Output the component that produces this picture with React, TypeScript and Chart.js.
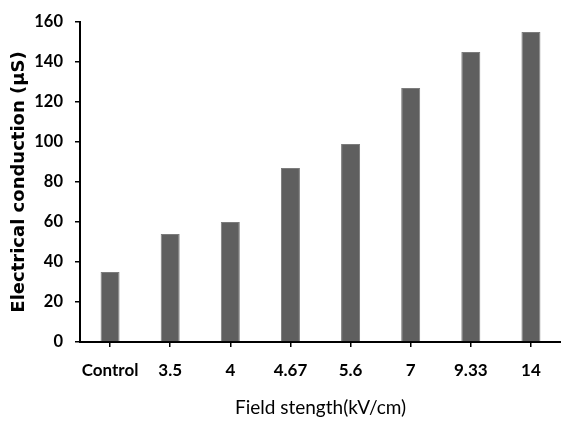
import React, { useEffect, useRef } from "react";
import { Chart, registerables } from "chart.js";

Chart.register(...registerables);

const categories = ["Control", "3.5", "4", "4.67", "5.6", "7", "9.33", "14"];
const conduction = [35, 54, 60, 87, 99, 127, 145, 155];
const yMin = 0;
const yMax = 160;
const yStep = 20;
const xTitle = "Field stength(kV/cm)";
const yTitle = "Electrical conduction (µS)";

export default function App() {
  const ref = useRef<HTMLCanvasElement>(null);

  useEffect(() => {
    const narrow = "Lato, 'Noto Sans', sans-serif";
    const wide = "'DejaVu Sans', Verdana, sans-serif";
    const chart = new Chart(ref.current!, {
      type: "bar",
      data: {
        labels: categories,
        datasets: [
          {
            data: conduction,
            backgroundColor: "#5f5f5f",
            borderColor: "#7c7c7c",
            borderWidth: 1,
            categoryPercentage: 1,
            barPercentage: 0.316,
          },
        ],
      },
      options: {
        responsive: false,
        animation: false,
        devicePixelRatio: 1,
        layout: { padding: { top: 21, right: 0, left: 0, bottom: 0 } },
        plugins: { legend: { display: false }, tooltip: { enabled: false } },
        scales: {
          x: {
            offset: true,
            grid: {
              display: true,
              drawOnChartArea: false,
              drawTicks: true,
              tickLength: 5,
              offset: false,
              color: "#000",
              lineWidth: 1.5,
            },
            border: { display: true, color: "#000", width: 2 },
            ticks: {
              color: "#000",
              font: { family: narrow, size: 17, weight: "bold" },
              padding: 13,
              maxRotation: 0,
              autoSkip: false,
            },
            title: {
              display: true,
              text: xTitle,
              color: "#000",
              font: { family: narrow, size: 19 },
              padding: { top: 0, bottom: 2 },
            },
            afterFit: (s: any) => {
              s.height = 79;
            },
          },
          y: {
            min: yMin,
            max: yMax,
            ticks: {
              stepSize: yStep,
              color: "#000",
              font: { family: narrow, size: 16.5, weight: "bold" },
              padding: 12,
            },
            grid: {
              drawOnChartArea: false,
              drawTicks: true,
              tickLength: 5,
              color: "#000",
              lineWidth: 1.5,
            },
            border: { display: true, color: "#000", width: 2 },
            title: {
              display: true,
              text: yTitle,
              color: "#000",
              font: { family: wide, size: 18, weight: "bold" },
              padding: { top: 9, bottom: 0 },
            },
            afterFit: (s: any) => {
              s.width = 80;
            },
          },
        },
      },
    } as any);
    return () => chart.destroy();
  }, []);

  return (
    <div style={{ position: "fixed", left: 0, top: 0, width: 561, height: 421, background: "#fff" }}>
      <canvas ref={ref} width={561} height={421} />
    </div>
  );
}
